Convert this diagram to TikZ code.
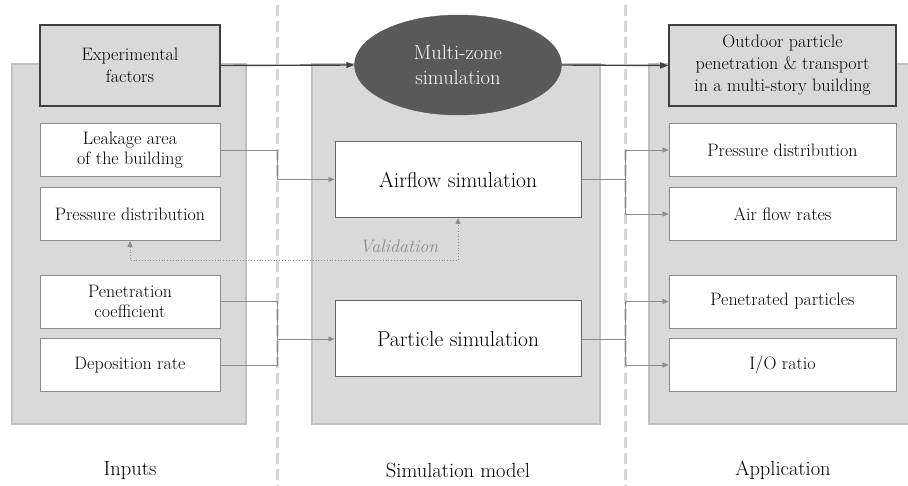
\documentclass[tikz,border=0pt]{standalone}
\usetikzlibrary{arrows.meta,shapes.geometric}
\definecolor{panelfill}{HTML}{D9D9D9}
\definecolor{panelline}{HTML}{C0C0C0}
\definecolor{darkline}{HTML}{404040}
\definecolor{ellfill}{HTML}{595959}
\definecolor{conn}{HTML}{8C8C8C}
\definecolor{sepline}{HTML}{D6D6D6}
\tikzset{
  panel/.style={draw=panelline, fill=panelfill, line width=2.2pt, minimum height=360pt, inner sep=0pt},
  topbox/.style={draw=darkline, fill=panelfill, line width=1.6pt, minimum height=81pt, align=center, font=\fontsize{18}{22}\selectfont, inner sep=0pt},
  wbox/.style={draw=conn, fill=white, line width=0.9pt, minimum height=53pt, align=center, font=\fontsize{18}{20.5}\selectfont, inner sep=0pt},
  simbox/.style={draw=darkline!80, fill=white, line width=1pt, minimum width=246pt, minimum height=76pt, font=\fontsize{21.5}{24}\selectfont, inner sep=0pt},
  conline/.style={draw=conn, line width=0.8pt},
  carrow/.style={conline, -{Triangle[length=6pt,width=5pt]}},
  mainarrow/.style={draw=darkline, line width=1.4pt, -{Triangle[length=8pt,width=6pt]}},
  valid/.style={draw=conn, line width=0.8pt, dotted, {Triangle[length=6pt,width=5pt]}-{Triangle[length=6pt,width=5pt]}},
  sep/.style={draw=sepline, line width=3pt, dash pattern=on 11pt off 5pt},
  lbl/.style={font=\fontsize{20.5}{24}\selectfont}
}
\begin{document}
\begin{tikzpicture}[x=1pt,y=-1pt]
\useasboundingbox (0,0) rectangle (908,486);
% separators
\draw[sep] (277,5) -- (277,486);
\draw[sep] (625,5) -- (625,486);
% panels
\node[panel, minimum width=234pt] (pin) at (129,244) {};
\node[panel, minimum width=288pt] (psim) at (456,244) {};
\node[panel, minimum width=275pt] (papp) at (786.5,244) {};
% top row
\node[topbox, minimum width=180pt] (exp) at (130,65.5) {Experimental\\factors};
\node[ellipse, fill=ellfill, draw=ellfill, minimum width=207pt, minimum height=100pt, inner sep=0pt, text=white, align=center, font=\fontsize{20.5}{25}\selectfont] (mz) at (458,65) {Multi-zone\\simulation};
\node[topbox, minimum width=227pt] (out) at (782.5,65.5) {Outdoor particle\\penetration \& transport\\in a multi-story building};
% input boxes
\node[wbox, minimum width=180pt] (leak) at (130,150) {Leakage area\\of the building};
\node[wbox, minimum width=180pt] (pdist) at (130,214) {Pressure distribution};
\node[wbox, minimum width=180pt] (pen) at (130,301.5) {Penetration\\coefficient};
\node[wbox, minimum width=180pt] (dep) at (130,365) {Deposition rate};
% simulation boxes
\node[simbox] (air) at (458,179.5) {Airflow simulation};
\node[simbox] (part) at (458,339) {Particle simulation};
% application boxes
\node[wbox, minimum width=227pt] (apd) at (782.5,150) {Pressure distribution};
\node[wbox, minimum width=227pt] (afr) at (782.5,214) {Air flow rates};
\node[wbox, minimum width=227pt] (ppt) at (782.5,301.5) {Penetrated particles};
\node[wbox, minimum width=227pt] (io) at (782.5,365) {I/O ratio};
% column labels
\node[lbl] (linp) at (130,470) {Inputs};
\node[lbl] (lsim) at (458,470) {Simulation model};
\node[lbl] (lapp) at (783,470) {Application};
% junction coordinates
\coordinate (jl) at (277,0);
\coordinate (jr) at (625,0);
\coordinate (vy) at (458,260);
% main arrows
\draw[mainarrow] (exp.east) -- (mz.west);
\draw[mainarrow] (mz.east) -- (out.west);
% airflow connectors
\draw[carrow] (leak.east) -- (leak.east -| jl) |- (air.west);
\draw[conline] (air.east) -- (air.east -| jr);
\draw[carrow] (air.east -| jr) |- (apd.west);
\draw[carrow] (air.east -| jr) |- (afr.west);
% validation
\draw[valid] (pdist.south) |- (vy) -- (air.south);
\node[font=\fontsize{18}{20}\selectfont\itshape, text=conn] (val) at (399,246) {Validation};
% particle connectors
\draw[conline] (pen.east) -- (pen.east -| jl) -- (dep.east -| jl) -- (dep.east);
\draw[carrow] (part.west -| jl) -- (part.west);
\draw[conline] (part.east) -- (part.east -| jr);
\draw[conline] (ppt.west -| jr) -- (io.west -| jr);
\draw[carrow] (ppt.west -| jr) -- (ppt.west);
\draw[carrow] (io.west -| jr) -- (io.west);
\end{tikzpicture}
\end{document}
